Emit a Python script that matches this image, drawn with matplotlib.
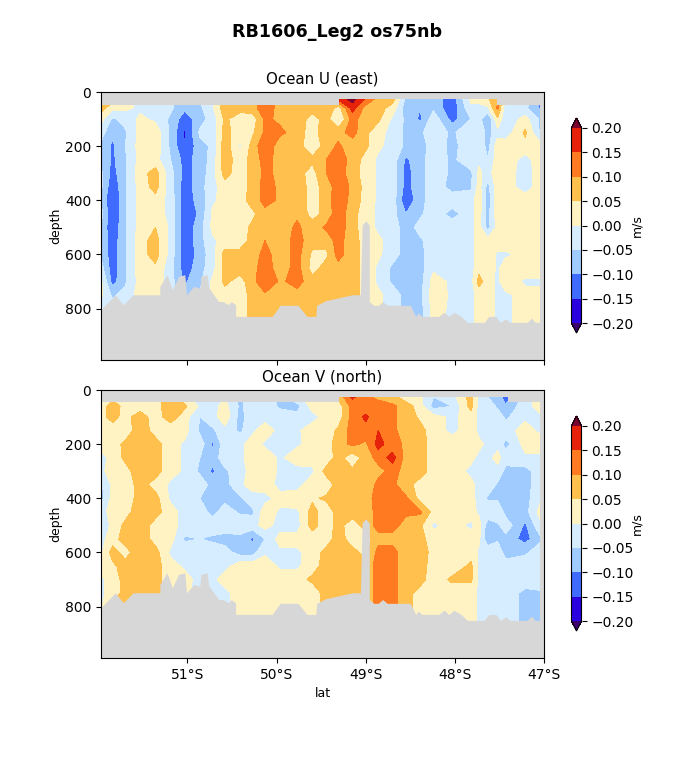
# coding:utf-8
import matplotlib
matplotlib.use('Agg')
import matplotlib.pyplot as plt
from matplotlib.colors import ListedColormap, BoundaryNorm
from matplotlib.ticker import FuncFormatter
import numpy as np

TITLE = 'RB1606_Leg2 os75nb'
LEVELS = [-0.2, -0.15, -0.1, -0.05, 0, 0.05, 0.1, 0.15, 0.2]
COLORS = ['#2a00e0', '#3f6bff', '#9fcbff', '#d6edff', '#fff3c4', '#ffc04d', '#ff7a20', '#e6220a']
UNDER, OVER = '#3c006e', '#7a0030'
GRAY = '#d7d7d7'

DEPTH = [26, 60, 100, 150, 200, 250, 300, 350, 400, 450, 500, 550, 600, 650, 700, 750, 800, 850]
LAT = [-51.97, -51.84, -51.70, -51.53, -51.36, -51.19, -51.03, -50.86, -50.72, -50.58, -50.41,
       -50.27, -50.13, -49.96, -49.77, -49.60, -49.44, -49.31, -49.15, -49.00, -48.86, -48.70,
       -48.55, -48.39, -48.24, -48.03, -47.82, -47.73, -47.63, -47.52, -47.43, -47.21, -47.04]

# one profile per latitude, cm/s
U_CM = [
    [7, 7, 2, -3, -6, -6, -4, -4, -6, -3, -6, -6, -6, -3, 1, 1, -2, -2],
    [8, 1, -6, -9, -11, -11, -12, -14, -15, -15, -14, -13, -13, -13, -12, -6, -3, -3],
    [3, 1, -3, -6, -5, -6, -6, -6, -6, -6, -6, -6, -6, -6, -6, -3, -2, -2],
    [-1, -1, 1, 2, 2, 2, 3, 2, 2, 2, 2, 3, 3, 3, 2, 2, 2, 2],
    [-2, -2, -1, 3, 3, 2, 7, 7, 3, 3, 5, 7, 7, 4, 3, 2, 2, 2],
    [-4, -4, -6, -6, -6, -5, -3, -3, -2, -2, -1, -2, -2, -3, -3, -3, -3, -3],
    [-8, -9, -13, -16, -15, -12, -12, -13, -13, -14, -14, -14, -14, -13, -11, -8, -6, -6],
    [-5, -6, -7, -4, -7, -8, -8, -7, -8, -9, -7, -7, -8, -7, -6, -5, -5, -5],
    [-1, -1, -3, -3, -4, -3, -2, -2, -1, 1, 1, -1, -2, -2, 1, 1, 1, 1],
    [7, 8, 6, 7, 8, 8, 7, 3, 2, 2, 2, 2, 7, 7, 6, 3, -1, -1],
    [7, 7, 2, 2, -1, 2, 2, 2, 3, 3, 3, 2, 7, 7, 3, 2, 2, 2],
    [8, 8, 2, 4, 7, 7, 7, 7, 7, 4, 6, 7, 7, 8, 8, 7, 7, 7],
    [13, 13, 11, 11, 14, 12, 11, 12, 12, 8, 8, 10, 12, 13, 15, 9, 8, 8],
    [8, 8, 9, 11, 7, 8, 9, 9, 9, 7, 7, 7, 7, 7, 9, 7, 7, 7],
    [7, 6, 8, 8, 7, 7, 7, 8, 8, 9, 11, 12, 12, 12, 12, 8, 7, 7],
    [7, 7, 3, 2, 2, 6, 3, 3, 3, 3, 7, 7, 4, 3, 7, 7, 7, 7],
    [10, 10, 7, 9, 7, 10, 10, 7, 7, 7, 11, 7, 4, 7, 7, 7, 7, 7],
    [16, 2, -1, 8, 11, 13, 13, 13, 14, 13, 13, 12, 12, 8, 7, 7, 7, 7],
    [22, 17, 12, 12, 7, 8, 7, 9, 8, 7, 7, 7, 7, 7, 7, 7, 7, 7],
    [14, 8, 7, 6, 6, 3, 3, 3, 3, 2, 2, 3, 3, 3, 3, 3, 3, 3],
    [8, 7, 6, 2, 1, -1, -1, -1, -1, -1, -1, 1, 1, -1, -1, 1, 1, 1],
    [7, 3, -1, -2, -2, -2, -2, -2, -2, -3, -2, -2, -3, -6, -6, -2, -2, -2],
    [-6, -8, -6, -6, -6, -11, -12, -12, -14, -10, -8, -8, -7, -7, -7, -7, -7, -7],
    [-5, -10, -11, -6, -7, -7, -7, -7, -7, -6, -3, -6, -7, -7, -7, -7, -7, -7],
    [-7, -6, -2, -2, -3, -2, -2, -2, -2, -2, -2, -2, -1, -1, 2, 3, 2, 2],
    [-13, -14, -12, -6, -6, -6, -6, -7, -2, -7, -2, -2, -2, -1, -1, -1, -1, -1],
    [1, -1, -5, -1, -3, -2, -6, -6, -2, -2, -2, -2, -2, -2, -2, -2, -2, -2],
    [1, -1, -3, -1, -1, -1, 1, 2, 3, 2, 2, 2, 3, 3, 7, 2, 2, 2],
    [4, -1, -10, -7, -7, -5, -2, -7, -8, -7, -7, 2, 3, 3, 2, 2, 2, 2],
    [10, 11, 4, -2, 3, 3, 3, 3, 4, 3, 2, 3, -1, -1, -1, -1, -1, -1],
    [-1, -4, -4, -3, 3, 3, 3, 3, 4, 3, 3, 3, -1, 3, 3, -1, -1, -1],
    [-1, -4, 2, 6, 3, -2, -3, -3, 3, 4, 2, 3, 2, 3, -1, 2, 2, 2],
    [-11, -11, -6, -6, 2, 3, 3, 3, 3, 3, 3, 3, 3, 3, -1, 2, 2, 2],
]
V_CM = [
    [2, 2, 3, 2, 2, -2, -1, -6, -7, -3, -6, -2, -1, 2, -1, -1, -1, -1],
    [3, 8, 7, 2, 3, 2, 2, 1, 2, 3, 2, 3, 7, 4, 2, 2, 7, 7],
    [2, 3, 3, 2, 6, 6, 3, 2, 2, 3, 6, 7, 3, 7, 7, 7, 7, 7],
    [2, 2, 8, 8, 8, 8, 8, 7, 7, 8, 8, 8, 8, 8, 8, 8, 8, 8],
    [2, 3, 2, 3, 7, 7, 7, 3, 7, 7, 3, 3, 7, 7, 7, 7, 7, 7],
    [8, 8, 8, 1, 2, 2, 2, -1, -1, 2, 1, 2, -1, 2, 2, 2, 2, 2],
    [1, 6, 2, 2, -1, -1, -1, -1, -2, -2, -1, -6, -1, -1, 2, 2, 2, 2],
    [-3, -1, -5, -6, -2, -5, -6, -2, -5, -2, -2, -5, -2, -2, -2, -3, -3, -3],
    [-2, -2, -2, -6, -11, -8, -11, -7, -6, -7, -2, -6, -2, -2, -2, -5, -5, -5],
    [-1, 2, 3, -2, -2, -2, -6, -7, -7, -2, -2, -7, -3, -2, 3, -2, -2, -2],
    [-6, -6, -7, -6, -1, -1, -2, -1, -6, -6, -1, -7, -7, 3, 3, 3, 3, 3],
    [-2, -2, -2, -1, 2, 2, 2, 2, -2, -6, -2, -11, -7, 3, 3, 2, 2, 2],
    [-2, -2, -2, 3, -1, 3, 3, 3, -2, 3, 2, -5, -1, 3, 3, 3, 3, 3],
    [-6, -6, -2, -2, -3, -1, -1, -2, 2, -1, -2, 2, -1, -1, 3, 3, 3, 3],
    [-1, -7, -3, -1, -1, 3, -2, -2, 3, -1, -2, 2, -1, -1, 3, 2, 2, 2],
    [2, 2, -2, 3, 2, 2, -1, 3, 4, 7, 7, 2, 2, 3, 6, 2, 2, 2],
    [2, 2, 2, 2, 2, 2, 7, 2, 6, 2, 2, 2, 7, 7, 8, 7, 7, 7],
    [6, 2, 2, 6, 8, 7, 7, 7, 7, 7, 7, 8, 7, 7, 10, 7, 7, 7],
    [16, 12, 12, 12, 11, 2, 6, 8, 7, 8, 2, 2, 7, 7, 7, 7, 7, 7],
    [11, 12, 16, 13, 9, 7, 7, 5, 7, 7, 7, 3, 3, 7, 7, 7, 7, 7],
    [9, 12, 11, 15, 17, 12, 8, 12, 13, 12, 12, 8, 12, 12, 12, 12, 12, 12],
    [7, 11, 11, 11, 12, 17, 12, 11, 12, 12, 12, 8, 12, 12, 12, 12, 12, 12],
    [2, 8, 8, 8, 9, 8, 8, 7, 11, 11, 8, 7, 7, 7, 7, 7, 7, 7],
    [1, 2, 4, 7, 7, 7, 7, 3, 3, 11, 6, 7, 8, 7, 7, 3, 3, 3],
    [-5, -7, 2, 2, 3, 3, 3, 2, 2, 3, -1, 2, 3, 3, 2, 2, 2, 2],
    [-2, -5, -1, -1, 2, 2, 2, 2, 3, 2, 2, 2, 2, 2, 6, 2, 2, 2],
    [7, 7, 2, 2, 1, 1, -1, 1, 1, 2, -1, 2, 3, 6, 6, 2, 2, 2],
    [-1, -2, -1, -1, 1, -1, -1, -1, -1, -1, 2, 1, -1, -1, -1, -1, -1, -1],
    [-5, -2, -5, -2, -1, -1, -1, -1, -6, -1, -8, -9, -1, -1, -1, -1, -1, -1],
    [-6, -6, -2, -1, -1, 1, -1, -6, -6, -1, -6, -6, -1, -1, -1, -1, -1, -1],
    [-14, -9, -6, -2, -7, -2, -7, -7, -7, -7, -2, -7, -8, -2, -2, -1, -1, -1],
    [-2, -2, -1, 2, 2, -1, -7, -7, -7, -7, -11, -12, -6, -1, -1, -7, -7, -7],
    [2, 2, -1, -1, 2, -1, -2, -2, -1, 2, -1, -6, -2, -1, -1, -6, -6, -6],
]

BATHY_LAT = [-51.97, -51.96, -51.81, -51.72, -51.61, -51.31, -51.31, -51.23, -51.17, -51.10, -51.03,
             -51.01, -50.93, -50.86, -50.85, -50.78, -50.76, -50.65, -50.60, -50.54, -50.51, -50.46,
             -50.46, -50.05, -49.96, -49.76, -49.66, -49.56, -49.55, -49.45, -49.15, -49.06, -49.04,
             -49.00, -48.96, -48.96, -48.91, -48.86, -48.81, -48.76, -48.50, -48.44, -48.41, -48.37,
             -48.18, -48.12, -48.07, -48.01, -47.93, -47.86, -47.67, -47.62, -47.54, -47.49, -47.43,
             -47.38, -47.19, -47.14, -47.10, -47.04]
BATHY_DEPTH = [800, 800, 749, 786, 749, 749, 718, 675, 731, 681, 675,
               749, 718, 724, 681, 675, 724, 774, 774, 786, 774, 786,
               829, 829, 788, 788, 829, 829, 788, 771, 749, 749, 491,
               476, 491, 774, 788, 788, 774, 788, 788, 829, 816, 829,
               829, 813, 829, 814, 829, 851, 851, 829, 829, 851, 838,
               851, 851, 835, 851, 851]
TOP_LAT = [-51.97, -49.30, -49.30, -47.53, -47.53, -47.0]
U_TOP = [48, 48, 26, 26, 48, 48]
V_TOP_LAT = [-51.97, -49.30, -49.30, -47.40, -47.40, -47.0]
V_TOP = [44, 44, 26, 26, 44, 44]

cmap = ListedColormap(COLORS)
cmap.set_under(UNDER)
cmap.set_over(OVER)
norm = BoundaryNorm(LEVELS, cmap.N)

W, H = 675, 765


def lat_fmt(v, pos):
    return '%d°S' % abs(round(v))


def panel(ax, values, top_lat, top, title):
    grid = np.array(values).T / 100.0
    cs = ax.contourf(LAT, DEPTH, grid, levels=LEVELS, cmap=cmap, norm=norm, extend='both')
    ax.fill_between(top_lat, 0, top, color=GRAY, lw=0)
    ax.fill_between(BATHY_LAT, BATHY_DEPTH, 1000, color=GRAY, lw=0)
    ax.axvspan(-47.04, -47.0, color=GRAY, lw=0)
    ax.set_xlim(-51.97, -47.0)
    ax.set_ylim(990, 0)
    ax.set_xticks([-51, -50, -49, -48, -47])
    ax.xaxis.set_major_formatter(FuncFormatter(lat_fmt))
    ax.set_yticks([0, 200, 400, 600, 800])
    ax.set_ylabel('depth', fontsize=9, labelpad=2)
    ax.set_title(title, fontsize=10.8, pad=6)
    return cs


fig = plt.figure(figsize=(W / 100, H / 100), dpi=100)
ax1 = fig.add_axes([101 / W, 1 - 360 / H, 443 / W, 268 / H])
ax2 = fig.add_axes([101 / W, 1 - 658 / H, 443 / W, 268 / H], sharex=ax1)

cs1 = panel(ax1, U_CM, TOP_LAT, U_TOP, 'Ocean U (east)')
cs2 = panel(ax2, V_CM, V_TOP_LAT, V_TOP, 'Ocean V (north)')
ax1.tick_params(labelbottom=False)
ax2.set_xlabel('lat', fontsize=9)

for cs, ax, top_px in ((cs1, ax1, 118), (cs2, ax2, 416)):
    cax = fig.add_axes([571.5 / W, 1 - (top_px + 215) / H, 10 / W, 215 / H])
    cb = fig.colorbar(cs, cax=cax, ticks=LEVELS, spacing='proportional')
    cb.ax.set_yticklabels(['%.2f' % v if v >= 0 else '\u2212%.2f' % abs(v) for v in LEVELS])
    cb.set_label('m/s', fontsize=9, labelpad=-2)

fig.suptitle(TITLE, fontsize=12.6, fontweight='bold', x=0.5, y=1 - 32 / H, va='center')
fig.savefig('out.png', dpi=100)
